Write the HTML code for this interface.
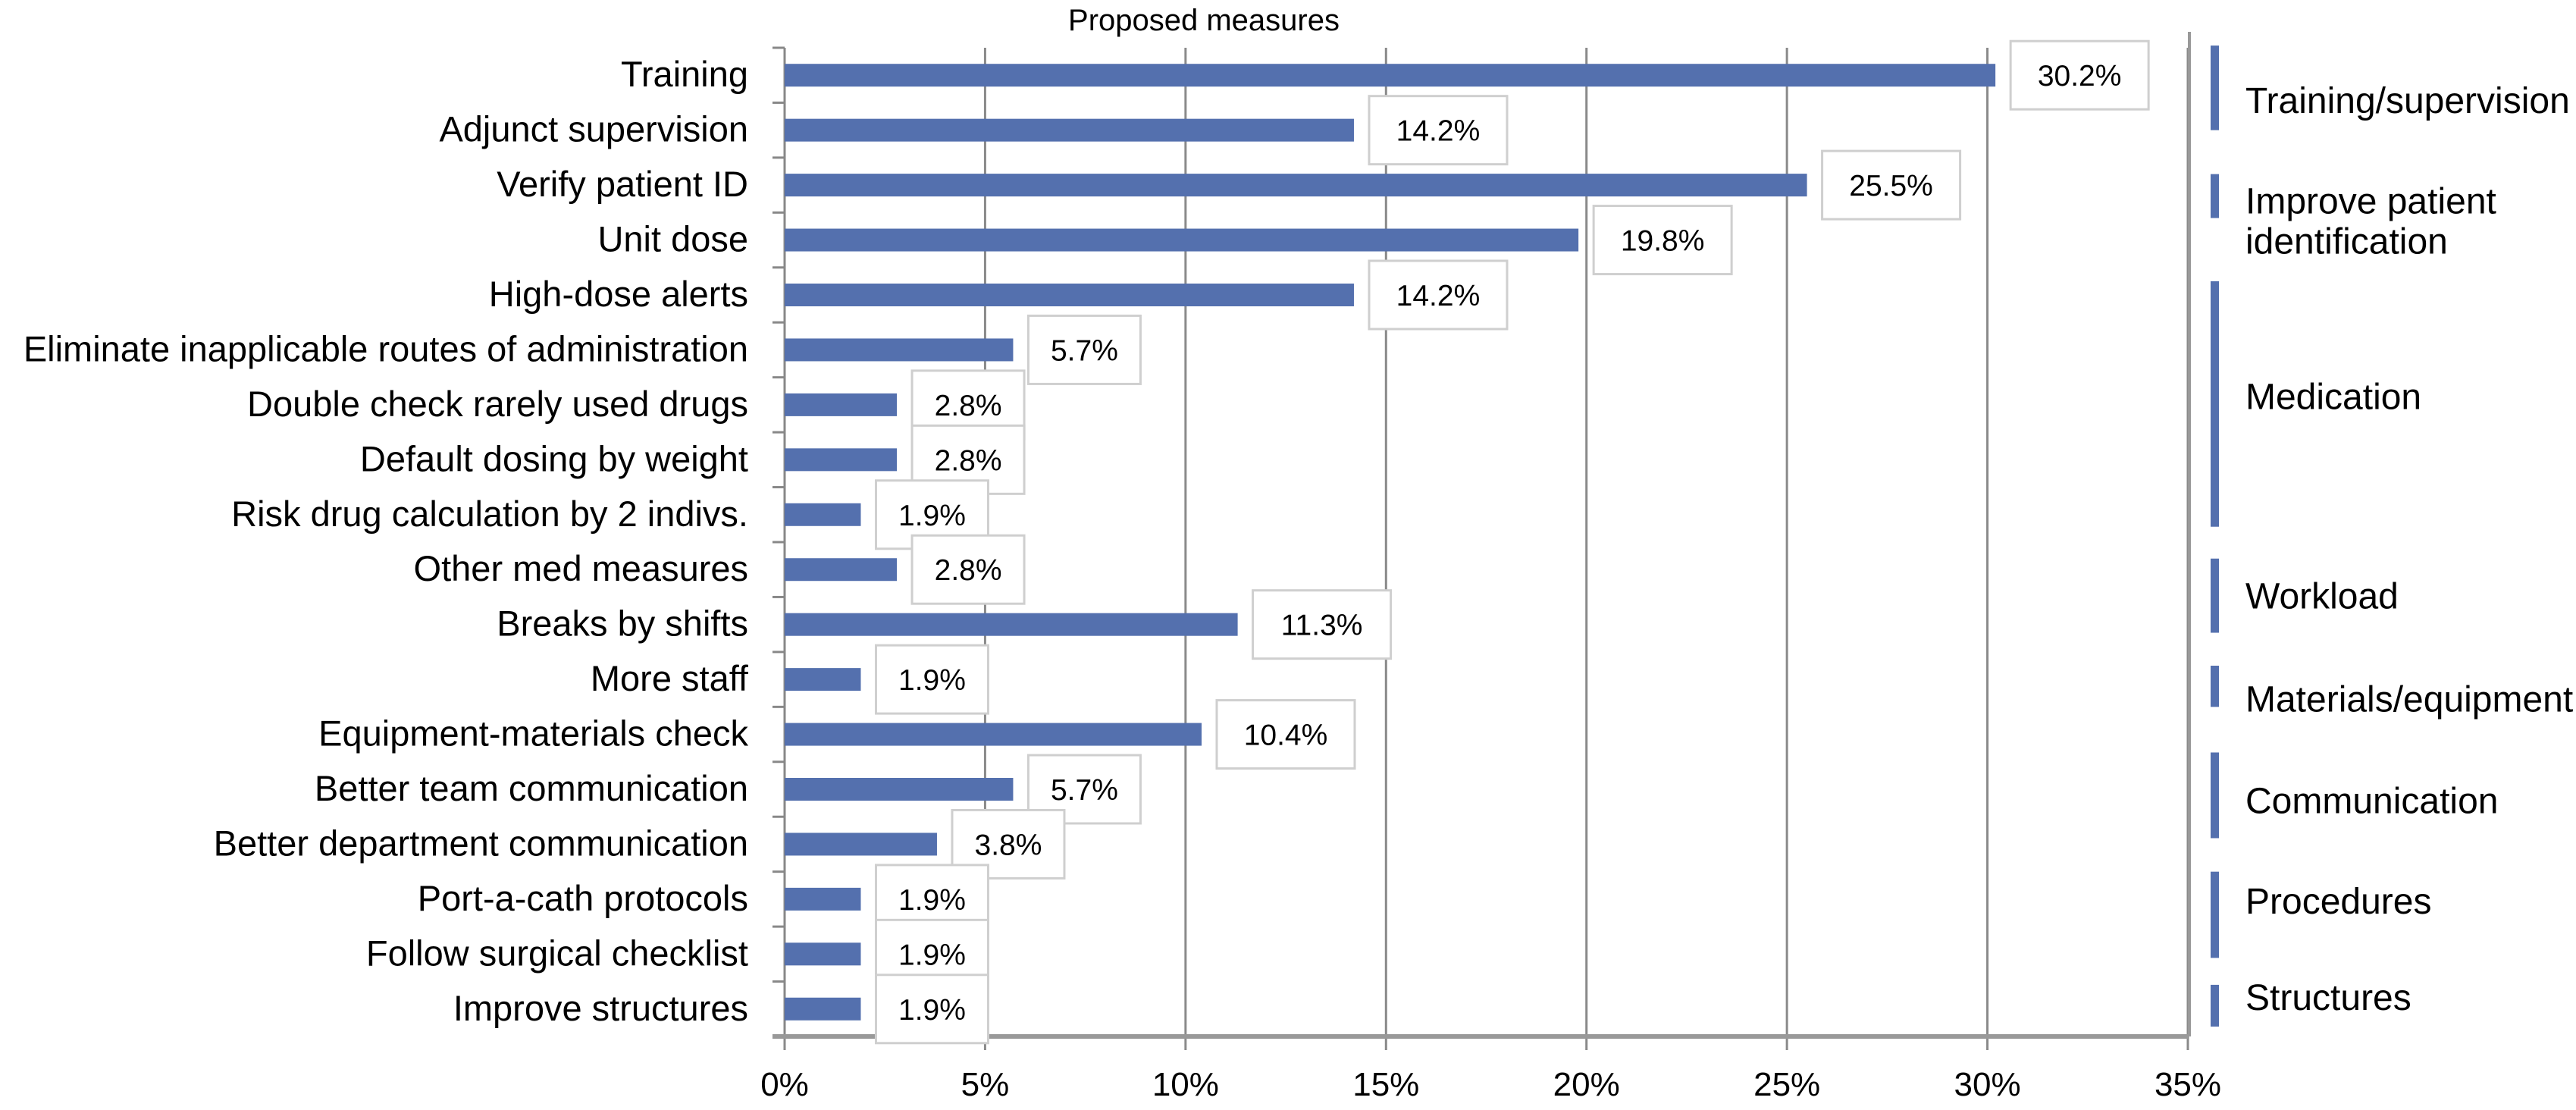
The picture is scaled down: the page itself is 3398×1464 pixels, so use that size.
<!DOCTYPE html>
<html><head><meta charset="utf-8"><style>
html,body{margin:0;padding:0;background:#fff;}
svg text{font-family:"Liberation Sans",Arial,sans-serif;fill:#000;}
</style></head><body>
<svg id="chart" width="3398" height="1459" viewBox="0 0 3398 1459" xmlns="http://www.w3.org/2000/svg">
<text x="1588" y="40" font-size="40" text-anchor="middle">Proposed measures</text>
<g id="grid"></g>
<g id="bars"></g>
<g id="labels"></g>
<g id="cats"></g>
<g id="xticks"></g>
<g id="groups"></g>
</svg>
<script>
const categories = ["Training","Adjunct supervision","Verify patient ID","Unit dose","High-dose alerts","Eliminate inapplicable routes of administration","Double check rarely used drugs","Default dosing by weight","Risk drug calculation by 2 indivs.","Other med measures","Breaks by shifts","More staff","Equipment-materials check","Better team communication","Better department communication","Port-a-cath protocols","Follow surgical checklist","Improve structures"];
const values = [30.2,14.2,25.5,19.8,14.2,5.7,2.8,2.8,1.9,2.8,11.3,1.9,10.4,5.7,3.8,1.9,1.9,1.9];
const xTicks = [0,5,10,15,20,25,30,35];
const groupNames = [["Training/supervision"],["Improve patient","identification"],["Medication"],["Workload"],["Materials/equipment"],["Communication"],["Procedures"],["Structures"]];
const groupTop = [-0.04,2.3,4.25,9.3,11.25,12.83,15.0,17.06];
const groupBottom = [1.5,3.1,8.72,10.65,12.0,14.39,16.57,17.82];
const groupLabelRow = [0.95,3.15,6.34,9.97,11.85,13.7,15.53,17.28];

const NS="http://www.w3.org/2000/svg";
const X0=1035, X1=2886, Y0=63, Y1=1367, XMAX=35;
const rowH=(Y1-Y0)/categories.length;
function xs(v){return X0+(v/XMAX)*(X1-X0);}
function yc(i){return Y0+(i+0.5)*rowH;}
function yr(r){return Y0+r*rowH;}
function mk(tag,attrs,parent){const e=document.createElementNS(NS,tag);for(const k in attrs)e.setAttribute(k,attrs[k]);parent.appendChild(e);return e;}
const grid=document.getElementById('grid'),bars=document.getElementById('bars'),labels=document.getElementById('labels'),cats=document.getElementById('cats'),xt=document.getElementById('xticks'),groups=document.getElementById('groups');

xTicks.forEach(t=>{
  const x=xs(t);
  const l=mk('line',{x1:x,x2:x,y1:Y0,y2:Y1+18,stroke:'#8a8a8a','stroke-width':3},grid);
  
  
  const tx=mk('text',{x:x,y:1445,'font-size':44,'text-anchor':'middle'},xt);
  tx.textContent=t+'%';
  
  
});
mk('line',{x1:2888,x2:2888,y1:42,y2:Y1,stroke:'#999','stroke-width':4},grid);
for(let i=0;i<=categories.length;i++){
  const y=Y0+i*rowH;
  mk('line',{x1:X0-16,x2:X0,y1:y,y2:y,stroke:'#888','stroke-width':3},grid);
}
mk('line',{x1:X0,x2:X0,y1:Y0,y2:Y1,stroke:'#888','stroke-width':3},grid);
mk('line',{x1:X0-16,x2:X1,y1:Y1,y2:Y1,stroke:'#999','stroke-width':6},grid);

categories.forEach((c,i)=>{
  const y=yc(i), v=values[i], xe=xs(v);
  const r=mk('rect',{x:X0,y:y-15,width:xe-X0,height:30,fill:'#5470ae'},bars);
  
  
  const t=mk('text',{x:987,y:y+15,'font-size':47,'text-anchor':'end'},cats);
  t.textContent=c;
  
  
  const s=v.toFixed(1)+'%';
  const w=s.length>4?182:148;
  const bx=xe+20;
  const b=mk('rect',{x:bx,y:y-45,width:w,height:90,fill:'#fff',stroke:'#cfcfcf','stroke-width':3},labels);
  
  
  const lt=mk('text',{x:bx+w/2,y:y+14,'font-size':39,'text-anchor':'middle'},labels);
  lt.textContent=s;
  
  
});

groupNames.forEach((g,k)=>{
  const ya=yr(groupTop[k]), yb=yr(groupBottom[k]);
  const r=mk('rect',{x:2916,y:ya,width:11,height:yb-ya,fill:'#5470ae'},groups);
  
  
  const mid=yr(groupLabelRow[k]);
  g.forEach((line,j)=>{
    const t=mk('text',{x:2962,y:mid+17+(j-(g.length-1)/2)*53,'font-size':48},groups);
    t.textContent=line;
    
    
  });
});
</script>
</body></html>
